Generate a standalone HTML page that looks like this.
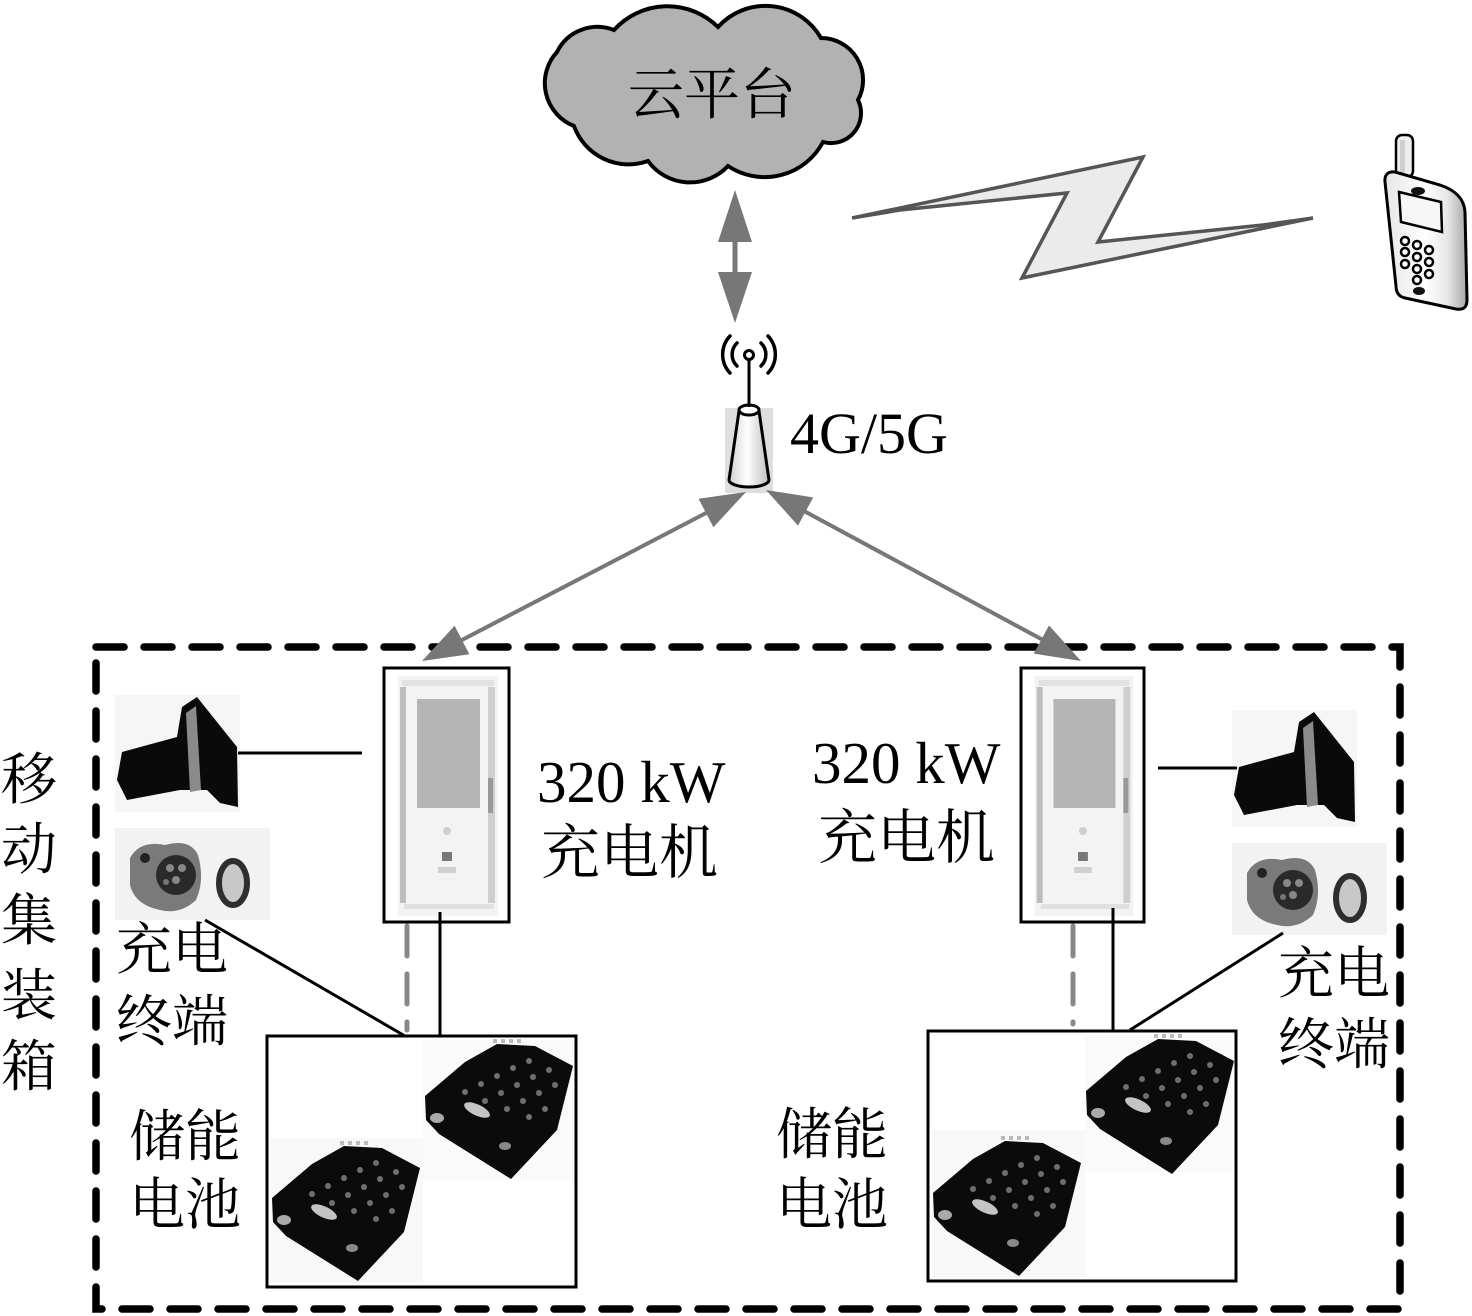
<!DOCTYPE html>
<html><head><meta charset="utf-8"><style>
html,body{margin:0;padding:0;background:#fff;}
svg{display:block;}
.cn{font-family:"Liberation Serif","Noto Serif CJK SC",serif;font-size:56px;fill:#000;}
.lat{font-family:"Liberation Serif","Noto Serif CJK SC",serif;fill:#000;}
</style></head><body>
<svg width="1472" height="1316" viewBox="0 0 1472 1316" xmlns="http://www.w3.org/2000/svg">
<defs>
  <linearGradient id="cone" x1="0" x2="1" y1="0" y2="0">
    <stop offset="0" stop-color="#cfcfcf"/><stop offset="0.45" stop-color="#ffffff"/><stop offset="1" stop-color="#bdbdbd"/>
  </linearGradient>
  <linearGradient id="phoneg" x1="0" x2="1" y1="0" y2="0">
    <stop offset="0" stop-color="#e6e6e6"/><stop offset="0.5" stop-color="#ffffff"/><stop offset="0.75" stop-color="#e8e8e8"/><stop offset="1" stop-color="#a8a8a8"/>
  </linearGradient>
  <g id="charger">
    <rect x="14" y="8" width="100" height="240" fill="#f3f3f3"/>
    <rect x="18" y="12" width="92" height="6" fill="#e2e2e2"/>
    <rect x="16" y="19" width="6" height="216" fill="#bdbdbd"/>
    <rect x="104" y="19" width="7" height="216" fill="#cfcfcf"/>
    <rect x="104" y="110" width="5" height="35" fill="#999"/>
    <rect x="33" y="31" width="63" height="109" fill="#b5b5b5"/>
    <circle cx="63" cy="163" r="4" fill="#cfcfcf"/>
    <rect x="58" y="184" width="10" height="9" fill="#777"/>
    <rect x="54" y="199" width="18" height="6" fill="#d0d0d0"/>
    <rect x="20" y="236" width="90" height="5" fill="#e0e0e0"/>
  </g>
  <g id="plug">
    <rect x="115" y="695" width="125" height="117" fill="#f6f6f6"/>
    <polygon points="117,780 122,752 177,737 182,707 197,697 237,747 238,807 220,803 207,790 180,790 127,800" fill="#0a0a0a"/>
    <polygon points="186,713 196,706 201,790 190,792" fill="#8a8a8a"/>
  </g>
  <g id="socket">
    <rect x="115" y="828" width="155" height="92" fill="#f2f2f2"/>
    <path d="M130,858 Q140,840 165,845 Q190,838 198,855 Q205,880 196,900 Q180,915 160,910 Q135,905 130,885 Z" fill="#7a7a7a"/>
    <circle cx="176" cy="875" r="20" fill="#2a2a2a"/>
    <circle cx="170" cy="868" r="4" fill="#888"/><circle cx="182" cy="868" r="4" fill="#888"/>
    <circle cx="176" cy="880" r="4" fill="#888"/><circle cx="166" cy="882" r="3" fill="#777"/>
    <circle cx="145" cy="858" r="5" fill="#222"/>
    <ellipse cx="233" cy="883" rx="14" ry="22" fill="#c8c8c8" stroke="#2e2e2e" stroke-width="6"/>
  </g>
  <g id="battery">
    <polygon points="0,50 40,16 72,-2 110,0 148,20 132,84 86,133 14,88 1,74" fill="#0b0b0b"/>
    <g fill="#6f6f6f">
      <circle cx="40" cy="46" r="3"/><circle cx="56" cy="38" r="3"/><circle cx="72" cy="30" r="3"/><circle cx="88" cy="22" r="3"/><circle cx="104" cy="15" r="3"/>
      <circle cx="60" cy="55" r="3"/><circle cx="76" cy="47" r="3"/><circle cx="92" cy="39" r="3"/><circle cx="108" cy="31" r="3"/><circle cx="124" cy="24" r="3"/>
      <circle cx="82" cy="63" r="3"/><circle cx="98" cy="55" r="3"/><circle cx="114" cy="47" r="3"/><circle cx="130" cy="39" r="3"/>
      <circle cx="104" cy="71" r="3"/><circle cx="120" cy="63" r="3"/>
    </g>
    <ellipse cx="52" cy="64" rx="14" ry="5.5" transform="rotate(25 52 64)" fill="#c4c4c4"/>
    <ellipse cx="12" cy="72" rx="7" ry="5" fill="#aaa"/>
    <ellipse cx="80" cy="100" rx="6" ry="4" fill="#888"/>
    <g fill="#bbb"><rect x="68" y="-7" width="4" height="4"/><rect x="76" y="-7" width="4" height="4"/><rect x="84" y="-7" width="4" height="4"/><rect x="92" y="-7" width="4" height="4"/></g>
  </g>
</defs>

<!-- cloud -->
<path d="M557,52 A45,45 0 0 1 614,30 A72,72 0 0 1 718,27 A64,64 0 0 1 821,38 A42,42 0 0 1 858,100 A30,30 0 0 1 823,142 A66,66 0 0 1 728,166 A52,52 0 0 1 648,161 A58,58 0 0 1 574,126 A46,46 0 0 1 557,52 Z" fill="#b2b2b2" stroke="#000" stroke-width="4"/>
<text class="cn" x="628" y="114">云平台</text>

<!-- vertical double arrow -->
<rect x="732.5" y="240" width="5" height="34" fill="#777"/>
<polygon points="735,190 718,242 752,242" fill="#777"/>
<polygon points="718,272 752,272 735,323" fill="#777"/>

<!-- lightning -->
<polygon points="852,218 1143,157 1098,242 1263,225 1313,218 1022,278 1067,193 900,210" fill="#ebebeb" stroke="#555" stroke-width="3.5" stroke-linejoin="miter"/>

<!-- phone -->
<rect x="1396" y="135" width="17" height="42" rx="6" fill="#eee" stroke="#000" stroke-width="2.5"/>
<rect x="1400" y="140" width="5" height="34" fill="#d0d0d0"/>
<path d="M1385,182 Q1384,171 1395,172 L1440,185 Q1464,193 1465,212 L1467,300 Q1467,311 1456,309 L1405,298 Q1396,296 1396,286 Z" fill="url(#phoneg)" stroke="#000" stroke-width="3"/>
<ellipse cx="1418" cy="191" rx="7" ry="4" fill="#111"/>
<polygon points="1399,192 1441,202 1442,232 1401,222" fill="#f7f7f7" stroke="#000" stroke-width="2.5"/>
<g fill="#fff" stroke="#000" stroke-width="2.5">
  <circle cx="1405" cy="241" r="4"/><circle cx="1417" cy="245" r="4"/><circle cx="1429" cy="250" r="4"/>
  <circle cx="1405" cy="252" r="4"/><circle cx="1417" cy="257" r="4"/><circle cx="1429" cy="262" r="4"/>
  <circle cx="1405" cy="264" r="4"/><circle cx="1417" cy="269" r="4"/><circle cx="1429" cy="274" r="4"/>
  <circle cx="1417" cy="280" r="4"/>
</g>
<ellipse cx="1419" cy="291" rx="6" ry="4" fill="#111"/>

<!-- antenna -->
<rect x="725" y="408" width="48" height="85" fill="#dedede"/>
<path d="M739,411 L729,480 A20,7 0 0 0 769,480 L759,411 Z" fill="url(#cone)" stroke="#000" stroke-width="3"/>
<ellipse cx="749" cy="410" rx="10" ry="5" fill="#fff" stroke="#000" stroke-width="3"/>
<line x1="749" y1="360" x2="749" y2="407" stroke="#000" stroke-width="3"/>
<circle cx="749" cy="355" r="4.5" fill="#fff" stroke="#000" stroke-width="3"/>
<g fill="none" stroke="#000" stroke-width="3.5" stroke-linecap="round">
  <path d="M761,343 A16,16 0 0 1 761,366"/>
  <path d="M737,343 A16,16 0 0 0 737,366"/>
  <path d="M768,336 A27,27 0 0 1 768,373"/>
  <path d="M730,336 A27,27 0 0 0 730,373"/>
</g>
<text class="lat" x="790" y="453" font-size="58">4G/5G</text>

<!-- container dashed box -->
<rect x="96" y="647" width="1304" height="662" fill="none" stroke="#000" stroke-width="7.5" stroke-dasharray="28 20" stroke-linecap="round"/>

<!-- diagonal arrows -->
<line x1="708" y1="512" x2="460" y2="641" stroke="#777" stroke-width="4"/>
<polygon points="746,492 698.6,498.8 713.4,527.2" fill="#777"/>
<polygon points="422,661 454.6,625.8 469.4,654.2" fill="#777"/>
<line x1="804" y1="511" x2="1043" y2="640" stroke="#777" stroke-width="4"/>
<polygon points="766,490 813.2,497.4 798,525.6" fill="#777"/>
<polygon points="1081,661 1049,625.4 1033.8,653.6" fill="#777"/>

<!-- label 移动集装箱 -->
<text class="cn" x="1" y="799">移</text>
<text class="cn" x="1" y="869">动</text>
<text class="cn" x="1" y="940">集</text>
<text class="cn" x="1" y="1015">装</text>
<text class="cn" x="1" y="1086">箱</text>

<!-- left charger -->
<use href="#charger" transform="translate(384,668)"/>
<rect x="384" y="668" width="125" height="254" fill="none" stroke="#000" stroke-width="3"/>
<!-- right charger -->
<use href="#charger" transform="translate(1021,668) scale(0.984,1)"/>
<rect x="1021" y="668" width="123" height="254" fill="none" stroke="#000" stroke-width="3"/>

<!-- left plug/socket -->
<use href="#plug"/>
<use href="#socket"/>
<line x1="238" y1="753" x2="362" y2="753" stroke="#000" stroke-width="3"/>
<line x1="205" y1="920" x2="405" y2="1036" stroke="#000" stroke-width="3"/>
<text class="cn" x="116" y="969">充电</text>
<text class="cn" x="116" y="1041">终端</text>

<!-- right plug/socket -->
<use href="#plug" transform="translate(1117,15)"/>
<use href="#socket" transform="translate(1117,15)"/>
<line x1="1158" y1="768" x2="1237" y2="768" stroke="#000" stroke-width="3"/>
<line x1="1283" y1="933" x2="1130" y2="1030" stroke="#000" stroke-width="3"/>
<text class="cn" x="1278" y="993">充电</text>
<text class="cn" x="1278" y="1064">终端</text>

<!-- charger to battery connections -->
<line x1="440" y1="912" x2="440" y2="1036" stroke="#000" stroke-width="3"/>
<line x1="407" y1="926" x2="407" y2="1030" stroke="#888" stroke-width="5" stroke-dasharray="30 18" stroke-linecap="round"/>
<line x1="1113" y1="908" x2="1113" y2="1031" stroke="#000" stroke-width="3"/>
<line x1="1073" y1="926" x2="1073" y2="1024" stroke="#888" stroke-width="5" stroke-dasharray="30 18" stroke-linecap="round"/>

<!-- charger labels -->
<text class="lat" x="537" y="802" font-size="59">320 kW</text>
<text class="cn" x="541" y="873" style="font-size:59px">充电机</text>
<text class="lat" x="812" y="783" font-size="59">320 kW</text>
<text class="cn" x="818" y="858" style="font-size:59px">充电机</text>

<!-- left battery box -->
<rect x="267" y="1036" width="309" height="251" fill="#fff" stroke="#000" stroke-width="3"/>
<rect x="423" y="1040" width="150" height="140" fill="#fafafa"/>
<rect x="270" y="1138" width="153" height="145" fill="#f8f8f8"/>
<use href="#battery" transform="translate(425,1046)"/>
<use href="#battery" transform="translate(272,1148)"/>
<text class="cn" x="129" y="1156">储能</text>
<text class="cn" x="129" y="1224">电池</text>

<!-- right battery box -->
<rect x="928" y="1031" width="308" height="250" fill="#fff" stroke="#000" stroke-width="3"/>
<rect x="1085" y="1035" width="148" height="137" fill="#fafafa"/>
<rect x="932" y="1130" width="153" height="147" fill="#f8f8f8"/>
<use href="#battery" transform="translate(1086,1041)"/>
<use href="#battery" transform="translate(933,1143)"/>
<text class="cn" x="776" y="1154">储能</text>
<text class="cn" x="776" y="1224">电池</text>
</svg>
</body></html>
